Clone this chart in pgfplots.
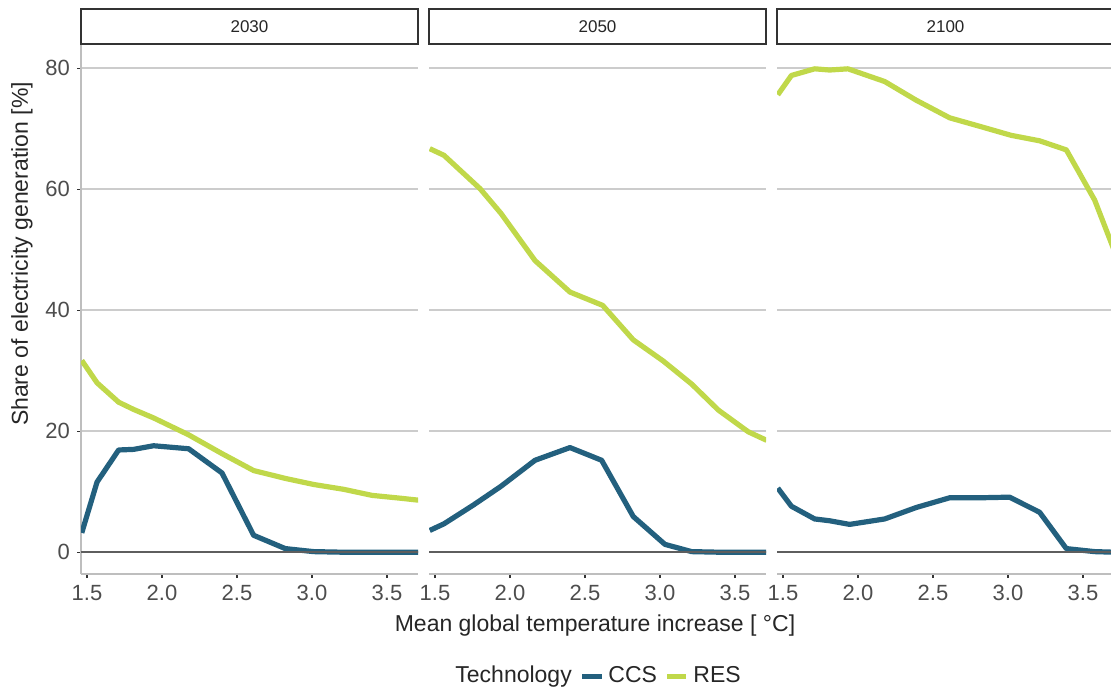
\documentclass[border=0pt]{standalone}
\usepackage{fontspec}
\setmainfont{Liberation Sans}
\usepackage{pgfplots}
\pgfplotsset{compat=1.18}
\definecolor{ccs}{HTML}{23607E}
\definecolor{res}{HTML}{C0D84A}
\definecolor{gridc}{HTML}{CCCCCC}
\definecolor{axisc}{HTML}{BEBEBE}
\definecolor{tickc}{HTML}{333333}
\definecolor{labc}{HTML}{4D4D4D}
\definecolor{titc}{HTML}{262626}
\definecolor{zeroc}{HTML}{5E5E5E}
\pgfplotsset{
  facet/.style={
    scale only axis, width=168.5pt, height=265pt,
    anchor=south west,
    xmin=1.46, xmax=3.707, ymin=-3.6, ymax=84,
    axis x line*=bottom, axis y line*=left,
    xtick={1.5,2,2.5,3,3.5}, xticklabels={1.5,2.0,2.5,3.0,3.5},
    ytick={0,20,40,60,80},
    tick align=outside, major tick length=2pt,
    tick style={color=tickc, line width=0.55pt},
    axis line style={color=axisc, line width=0.7pt},
    ymajorgrids, major grid style={color=gridc, line width=0.8pt},
    ticklabel style={font=\fontsize{11}{13}\selectfont, text=labc},
  },
  noy/.style={
    y axis line style={draw=none}, ytick style={draw=none}, yticklabels={},
  },
  ccsl/.style={color=ccs, line width=2.6pt, line join=round},
  resl/.style={color=res, line width=2.6pt, line join=round},
  zerol/.style={color=zeroc, line width=0.8pt, forget plot},
}
\newcommand{\strip}[2]{%
  \draw[color=tickc, line width=0.7pt, fill=white] (#1,324pt) rectangle ++(168.5pt,17.5pt);
  \node[font=\fontsize{8.5}{10}\selectfont, text=titc] at ([xshift=84.25pt]#1,332.75pt) {#2};
}
\begin{document}
\begin{tikzpicture}
\path[use as bounding box] (0,0) rectangle (555.5pt,346pt);
\clip (0,0) rectangle (555.5pt,346pt);

% Panel 2030
\begin{axis}[facet, at={(40.5pt,59pt)}, yticklabels={0,20,40,60,80}]
\addplot[ccsl] coordinates {(1.465,3.2) (1.567,11.6) (1.711,16.9) (1.811,17.0) (1.944,17.6) (2.178,17.1) (2.4,13.1) (2.611,2.8) (2.822,0.6) (3.011,0.1) (3.211,0) (3.4,0) (3.6,0) (3.711,0)};
\addplot[resl] coordinates {(1.465,31.7) (1.567,28.0) (1.711,24.8) (1.811,23.6) (1.944,22.2) (2.178,19.4) (2.4,16.3) (2.611,13.5) (2.822,12.2) (3.011,11.2) (3.211,10.4) (3.4,9.4) (3.6,8.9) (3.711,8.6)};
\addplot[zerol] coordinates {(1.3,0) (3.9,0)};
\end{axis}

% Panel 2050
\begin{axis}[facet, noy, at={(214.5pt,59pt)}]
\addplot[ccsl] coordinates {(1.465,3.6) (1.56,4.7) (1.756,7.8) (1.94,10.9) (2.167,15.2) (2.4,17.3) (2.611,15.2) (2.822,5.9) (3.033,1.3) (3.211,0.1) (3.4,0) (3.6,0) (3.711,0)};
\addplot[resl] coordinates {(1.465,66.7) (1.56,65.6) (1.8,60.1) (1.94,56.0) (2.167,48.2) (2.4,43.0) (2.618,40.8) (2.822,35.1) (3.022,31.6) (3.211,27.8) (3.389,23.5) (3.589,19.9) (3.711,18.5)};
\addplot[zerol] coordinates {(1.3,0) (3.9,0)};
\end{axis}

% Panel 2100
\begin{axis}[facet, noy, at={(388.5pt,59pt)}]
\addplot[ccsl] coordinates {(1.465,10.6) (1.556,7.6) (1.711,5.5) (1.811,5.2) (1.944,4.6) (2.178,5.5) (2.389,7.4) (2.611,9.0) (2.811,9.0) (3.011,9.1) (3.211,6.6) (3.389,0.6) (3.578,0.1) (3.711,0)};
\addplot[resl] coordinates {(1.465,75.6) (1.556,78.8) (1.711,79.9) (1.811,79.7) (1.933,79.9) (2.178,77.8) (2.389,74.7) (2.611,71.8) (2.811,70.4) (3.022,68.9) (3.211,68.0) (3.389,66.5) (3.578,58.2) (3.711,49.7)};
\addplot[zerol] coordinates {(1.3,0) (3.9,0)};
\end{axis}

% strips
\strip{40.5pt}{2030}
\strip{214.5pt}{2050}
\strip{388.5pt}{2100}

% axis titles
\node[font=\fontsize{11.5}{13}\selectfont, text=titc] at (297.5pt,33pt) {Mean global temperature increase [ °C]};
\node[font=\fontsize{11.5}{13}\selectfont, text=titc, rotate=90] at (11pt,219pt) {Share of electricity generation [\%]};

% legend
\node[font=\fontsize{11.5}{13}\selectfont, text=titc, anchor=base west, inner sep=0pt] at (227.5pt,4.6pt) {Technology};
\draw[ccs, line width=2.5pt] (291pt,7.6pt) -- (301pt,7.6pt);
\node[font=\fontsize{11.5}{13}\selectfont, text=titc, anchor=base west, inner sep=0pt] at (304pt,4.6pt) {CCS};
\draw[res, line width=2.5pt] (333.5pt,7.6pt) -- (343pt,7.6pt);
\node[font=\fontsize{11.5}{13}\selectfont, text=titc, anchor=base west, inner sep=0pt] at (346.5pt,4.6pt) {RES};
\end{tikzpicture}
\end{document}
